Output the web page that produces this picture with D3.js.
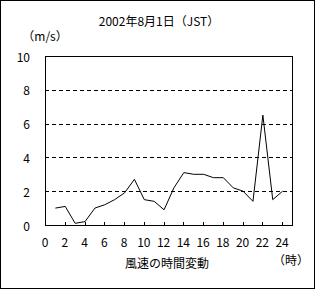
<!DOCTYPE html>
<html><head><meta charset="utf-8">
<script src="https://cdn.jsdelivr.net/npm/d3@7"></script>
<style>
body{margin:0;background:#fff;}
text{font-family:"Noto Sans CJK JP","DejaVu Sans",sans-serif;font-size:12px;fill:#000;}
</style></head><body>
<svg id="c" width="316" height="289"></svg>
<script>
const title = "2002年8月1日（JST）";
const yUnit = "（m/s）";
const xUnit = "（時）";
const xTitle = "風速の時間変動";
const hours = [1,2,3,4,5,6,7,8,9,10,11,12,13,14,15,16,17,18,19,20,21,22,23,24];
const speeds = [1.0,1.1,0.1,0.2,1.0,1.2,1.5,1.9,2.7,1.5,1.4,0.9,2.2,3.1,3.0,3.0,2.8,2.8,2.2,2.0,1.4,6.5,1.5,2.0];
const xTickLabels = [0,2,4,6,8,10,12,14,16,18,20,22,24];
const xTickMarks = [2,4,6,8,10,12,14,16,18,20,22,24];
const yTicks = [0,2,4,6,8,10];
const gridVals = [2,4,6,8];

const svg = d3.select("#c");
const L=45, R=292, T=56, B=225;
const x = d3.scaleLinear().domain([0,25]).range([L,R]);
const y = d3.scaleLinear().domain([0,10]).range([B,T]);

svg.append("rect").attr("x",0.5).attr("y",0.5).attr("width",314).attr("height",288)
  .attr("fill","#fff").attr("stroke","#000");

// gridlines
svg.append("g").selectAll("line").data(gridVals).join("line")
  .attr("x1",L).attr("x2",R).attr("y1",d=>Math.round(y(d))+0.5).attr("y2",d=>Math.round(y(d))+0.5)
  .attr("stroke","#000").attr("stroke-dasharray","4,3");

// plot border
svg.append("rect").attr("x",L+0.5).attr("y",T+0.5).attr("width",R-L).attr("height",B-T)
  .attr("fill","none").attr("stroke","#000");

// x tick marks
svg.append("g").selectAll("line").data(xTickMarks).join("line")
  .attr("x1",d=>Math.round(x(d))+0.5).attr("x2",d=>Math.round(x(d))+0.5)
  .attr("y1",B).attr("y2",B-3).attr("stroke","#000");

// x tick labels
svg.append("g").selectAll("text").data(xTickLabels).join("text")
  .attr("x",d=>x(d)).attr("y",247).attr("text-anchor","middle").text(d=>d);

// y tick labels
svg.append("g").selectAll("text").data(yTicks).join("text")
  .attr("x",30).attr("y",d=>y(d)+5.5).attr("text-anchor","end").text(d=>d);

// line
const line = d3.line().x((d,i)=>x(hours[i])+0.5).y(d=>y(d));
svg.append("path").datum(speeds).attr("d",line).attr("fill","none").attr("stroke","#000").attr("stroke-width",1);

svg.append("text").attr("x",159).attr("y",26).attr("text-anchor","middle").text(title);
svg.append("text").attr("x",45).attr("y",41).attr("text-anchor","middle").text(yUnit);
svg.append("text").attr("x",167).attr("y",268).attr("text-anchor","middle").text(xTitle);
svg.append("text").attr("x",291).attr("y",265).attr("text-anchor","middle").text(xUnit);
</script></body></html>
